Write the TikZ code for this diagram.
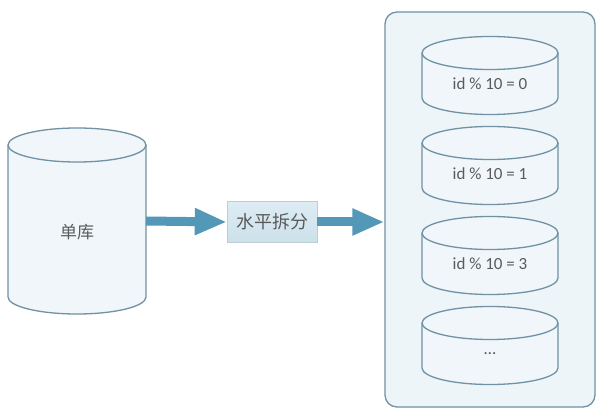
\documentclass[tikz,border=0pt]{standalone}
\usepackage{fontspec}
\setmainfont{Carlito}
\newfontfamily\cjk{Noto Sans CJK SC}
\usetikzlibrary{arrows.meta}

\definecolor{dbline}{RGB}{112,146,164}
\definecolor{dbfill}{RGB}{240,246,249}
\definecolor{boxfill}{RGB}{238,245,248}
\definecolor{flowblue}{RGB}{84,152,184}
\definecolor{labelgray}{RGB}{90,90,90}
\definecolor{splittop}{RGB}{222,236,243}
\definecolor{splitbot}{RGB}{204,225,235}

% cylinder: centre x, top y, bottom y, x radius, y radius
\newcommand{\dbcyl}[5]{%
  \fill[dbfill] (#1-#4,#2) -- (#1-#4,#3) arc[start angle=180,end angle=360,x radius=#4pt,y radius=#5pt] -- (#1+#4,#2) -- cycle;
  \draw[dbline, line width=1.3pt] (#1-#4,#2) -- (#1-#4,#3) arc[start angle=180,end angle=360,x radius=#4pt,y radius=#5pt] -- (#1+#4,#2);
  \filldraw[dbline, fill=dbfill, line width=1.3pt] (#1,#2) ellipse[x radius=#4pt,y radius=#5pt];
}

\begin{document}
\begin{tikzpicture}[x=1pt, y=1pt,
    every node/.style={text=labelgray},
    dblabel/.style={font=\fontsize{17}{19}\selectfont},
    container/.style={draw=dbline, fill=boxfill, line width=1.3pt, rounded corners=12pt,
      minimum width=210pt, minimum height=395pt, inner sep=0pt},
    splitbox/.style={draw=splitbot!80!gray, top color=splittop, bottom color=splitbot,
      minimum width=90pt, minimum height=41pt, inner sep=0pt, font=\cjk\fontsize{18}{20}\selectfont},
    flow/.style={draw=flowblue, line width=9pt, -{Triangle[length=32pt,width=25pt]}},
  ]
  \useasboundingbox[fill=white] (0,0) rectangle (604,415);

  % single database
  \dbcyl{77}{270}{118}{69}{17}
  \node[font=\cjk\fontsize{17}{19}\selectfont] (single) at (77,183) {单库};
  \coordinate (singleE) at (146,194);

  \node[splitbox] (split) at (272,193) {水平拆分};

  % sharded databases
  \node[container] (shards) at (490,205.5) {};
  \foreach \i/\lbl in {0/{id \% 10 = 0}, 1/{id \% 10 = 1}, 2/{id \% 10 = 3}, 3/{\ldots}} {
    \pgfmathsetmacro{\ytop}{362-90*\i}
    \pgfmathsetmacro{\ybot}{\ytop-45}
    \dbcyl{490}{\ytop}{\ybot}{68}{16.5}
    \node[dblabel] (shard\i) at (490,\ytop-31) {\lbl};
  }

  \draw[flow] (singleE) -- (split.west);
  \draw[flow] (split.east) -- (shards.west |- split.east);
\end{tikzpicture}
\end{document}
